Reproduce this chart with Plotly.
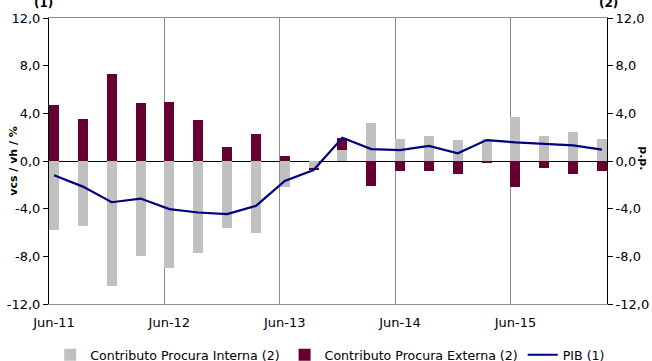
import plotly.graph_objects as go

quarters = ["Jun-11", "Sep-11", "Dec-11", "Mar-12", "Jun-12", "Sep-12", "Dec-12", "Mar-13",
            "Jun-13", "Sep-13", "Dec-13", "Mar-14", "Jun-14", "Sep-14", "Dec-14", "Mar-15",
            "Jun-15", "Sep-15", "Dec-15", "Mar-16"]
interna = [-5.75, -5.44, -10.46, -7.98, -9.01, -7.73, -5.58, -6.0, -2.15, -0.64,
           0.95, 3.21, 1.87, 2.09, 1.73, 1.87, 3.71, 2.09, 2.40, 1.87]
externa = [4.71, 3.54, 7.31, 4.88, 4.99, 3.40, 1.17, 2.29, 0.42, -0.12,
           0.95, -2.09, -0.84, -0.84, -1.06, -0.14, -2.15, -0.61, -1.06, -0.84]
pib = [-1.2, -2.15, -3.46, -3.15, -4.04, -4.32, -4.46, -3.77, -1.67, -0.76,
       1.95, 1.0, 0.92, 1.26, 0.64, 1.76, 1.56, 1.45, 1.31, 0.95]
y_tickvals = [-12, -8, -4, 0, 4, 8, 12]
y_ticktext = ["-12,0", "-8,0", "-4,0", "0,0", "4,0", "8,0", "12,0"]

BAR_W = 0.35
idx = list(range(len(quarters)))
line_x = [i + BAR_W / 2 for i in idx]
label_idx = [i for i, q in enumerate(quarters) if q.startswith("Jun")]

FONT = "Verdana, DejaVu Sans, sans-serif"

fig = go.Figure()
fig.add_trace(go.Bar(x=idx, y=interna, name="Contributo Procura Interna (2)",
                     marker=dict(color="#C0C0C0", line=dict(width=0)),
                     width=BAR_W, offset=0))
fig.add_trace(go.Bar(x=idx, y=externa, name="Contributo Procura Externa (2)",
                     marker=dict(color="#660033", line=dict(width=0)),
                     width=BAR_W, offset=0))
fig.add_trace(go.Scatter(x=line_x, y=pib, name="PIB (1)", mode="lines",
                         line=dict(color="#000080", width=2.2)))
# invisible trace for right axis
fig.add_trace(go.Scatter(x=line_x, y=pib, yaxis="y2", mode="lines",
                         line=dict(width=0), showlegend=False, hoverinfo="skip"))

fig.update_layout(
    width=652, height=361,
    margin=dict(l=49, r=45, t=18, b=57, autoexpand=False),
    paper_bgcolor="white", plot_bgcolor="white",
    barmode="relative", bargap=0,
    font=dict(family=FONT, size=13, color="black"),
    showlegend=True,
    legend=dict(orientation="h", xref="container", yref="container",
                x=0.077, xanchor="left", y=0.058, yanchor="top",
                font=dict(size=12.6), itemwidth=30, tracegroupgap=0,
                bgcolor="rgba(0,0,0,0)", traceorder="normal"),
    xaxis=dict(range=[0, len(quarters) - 1 + BAR_W], tickmode="array",
               tickvals=label_idx, ticktext=[quarters[i] for i in label_idx],
               showgrid=True, gridcolor="#8C8C8C", gridwidth=1,
               showline=True, linecolor="#8C8C8C", linewidth=1, mirror=True,
               ticks="", ticklabelshift=5, ticklabelstandoff=6,
               zeroline=False, fixedrange=True),
    yaxis=dict(range=[-12, 12], tickmode="array", tickvals=y_tickvals, ticktext=y_ticktext,
               showgrid=False, zeroline=True, zerolinecolor="black", zerolinewidth=1,
               showline=True, linecolor="black", linewidth=1,
               ticks="outside", ticklen=5, tickcolor="black"),
    yaxis2=dict(range=[-12, 12], tickmode="array", tickvals=y_tickvals, ticktext=y_ticktext,
                overlaying="y", side="right", showgrid=False, zeroline=False,
                showline=True, linecolor="black", linewidth=1,
                ticks="outside", ticklen=5, tickcolor="black"),
    annotations=[
        dict(text="<b>vcs / vh / %</b>", xref="paper", yref="paper", x=-0.065, y=0.5,
             textangle=-90, showarrow=False, font=dict(size=11), xanchor="center", yanchor="middle"),
        dict(text="<b>p.p.</b>", xref="paper", yref="paper", x=1.066, y=0.51,
             textangle=90, showarrow=False, font=dict(size=11), xanchor="center", yanchor="middle"),
        dict(text="<b>(1)</b>", xref="paper", yref="paper", x=-0.009, y=1.052,
             showarrow=False, font=dict(size=12), xanchor="center", yanchor="middle"),
        dict(text="<b>(2)</b>", xref="paper", yref="paper", x=1.0018, y=1.052,
             showarrow=False, font=dict(size=12), xanchor="center", yanchor="middle"),
    ],
)

fig.write_html("out.html")
